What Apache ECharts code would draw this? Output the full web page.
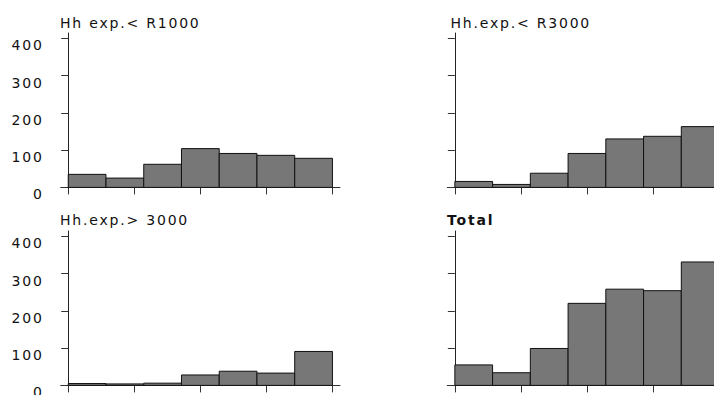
<!DOCTYPE html>
<html>
<head>
<meta charset="utf-8">
<script src="https://cdn.jsdelivr.net/npm/echarts@6/dist/echarts.min.js"></script>
<style>
  html, body { margin: 0; padding: 0; background: #fff; }
  #main { width: 714px; height: 395px; letter-spacing: 1.8px; }
</style>
</head>
<body>
<div id="main"></div>
<script>
// ---- data ----
const binIndex = [0, 1, 2, 3, 4, 5, 6];
const panelTitles = ['Hh exp.< R1000', 'Hh.exp.< R3000', 'Hh.exp.> 3000', 'Total'];
const hhLt1000 = [35, 25, 62, 104, 91, 86, 78];
const hhLt3000 = [16, 8, 38, 91, 130, 137, 163];
const hhGt3000 = [5, 4, 6, 28, 38, 33, 91];
const totalVals = [55, 34, 99, 220, 258, 254, 331];
const yTicks = [0, 100, 200, 300, 400];
const xTicks = [0, 1.75, 3.5, 5.25, 7];

const panels = [hhLt1000, hhLt3000, hhGt3000, totalVals];
const gridPos = [
  { left: 60.7, top: 33, width: 279.3, height: 160 },
  { left: 447.3, top: 33, width: 279.3, height: 160 },
  { left: 60.7, top: 231, width: 279.3, height: 160 },
  { left: 447.3, top: 231, width: 279.3, height: 160 }
];
const titlePos = [
  { left: 60, top: 15.5 },
  { left: 450.5, top: 15.5 },
  { left: 60, top: 213 },
  { left: 447, top: 213 }
];
const FONT = 'DejaVu Sans';

const chart = echarts.init(document.getElementById('main'), null, { renderer: 'svg' });

const option = {
  animation: false,
  backgroundColor: '#fff',
  title: panelTitles.map((t, i) => ({
    text: t,
    left: titlePos[i].left,
    top: titlePos[i].top,
    padding: 0,
    textStyle: {
      fontFamily: FONT,
      fontSize: 14,
      fontWeight: i === 3 ? 'bold' : 'normal',
      color: '#111'
    }
  })),
  grid: gridPos.map(g => Object.assign({ containLabel: false, outerBoundsMode: 'none' }, g)),
  xAxis: panels.map((_, i) => ({
    type: 'value',
    gridIndex: i,
    min: -0.2,
    max: 7.2,
    axisLine: { show: true, lineStyle: { color: '#333', width: 1 } },
    axisTick: { show: true, length: 7, customValues: xTicks, lineStyle: { color: '#333' } },
    axisLabel: { show: false },
    splitLine: { show: false }
  })),
  yAxis: panels.map((_, i) => ({
    type: 'value',
    gridIndex: i,
    min: -15,
    max: 414,
    axisLine: { show: true, lineStyle: { color: '#222', width: 1 } },
    axisTick: { show: true, length: 7, customValues: yTicks, lineStyle: { color: '#333' } },
    axisLabel: {
      show: i % 2 === 0,
      customValues: yTicks,
      margin: 17,
      verticalAlign: 'top',
      fontFamily: FONT,
      fontSize: 14,
      color: '#111'
    },
    splitLine: { show: false }
  })),
  series: panels.map((vals, i) => ({
    type: 'custom',
    xAxisIndex: i,
    yAxisIndex: i,
    data: binIndex.map((b, k) => [b, vals[k]]),
    renderItem: function (params, api) {
      const b = api.value(0);
      const v = api.value(1);
      const p0 = api.coord([b, v]);
      const p1 = api.coord([b + 1, 0]);
      return {
        type: 'rect',
        shape: { x: p0[0], y: p0[1], width: p1[0] - p0[0], height: p1[1] - p0[1] },
        style: { fill: '#777777', stroke: '#111', lineWidth: 1 }
      };
    }
  }))
};
chart.setOption(option);
</script>
</body>
</html>
